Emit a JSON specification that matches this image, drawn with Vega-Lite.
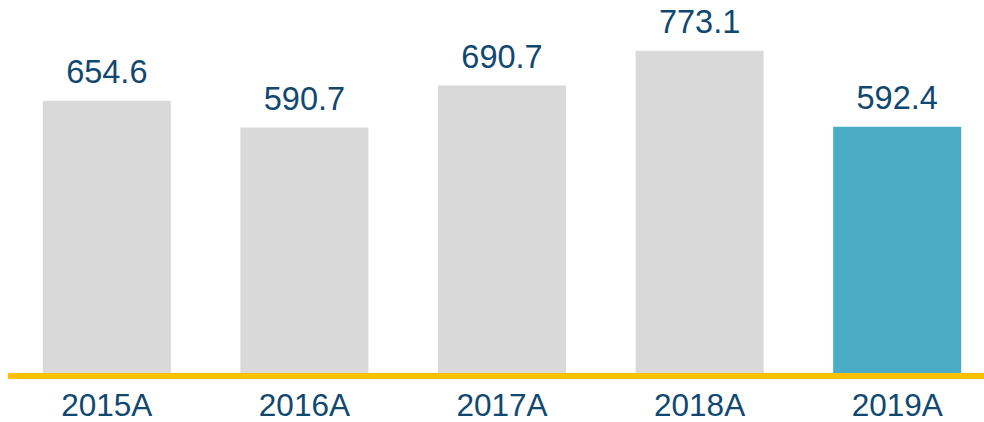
{
  "$schema": "https://vega.github.io/schema/vega-lite/v6.json",
  "width": 988,
  "height": 376,
  "autosize": {"type": "none"},
  "padding": {"left": 8, "top": 0, "right": 0, "bottom": 46},
  "background": "white",
  "layer": [
    {
      "data": {"values": [
        {"year": "2015A", "value": 654.6, "hl": "no"},
        {"year": "2016A", "value": 590.7, "hl": "no"},
        {"year": "2017A", "value": 690.7, "hl": "no"},
        {"year": "2018A", "value": 773.1, "hl": "no"},
        {"year": "2019A", "value": 592.4, "hl": "yes"}
      ]},
      "encoding": {
        "x": {"field": "year", "type": "nominal", "sort": null,
          "scale": {"paddingInner": 0.352, "paddingOuter": 0.176},
          "axis": {"title": null, "domain": false, "ticks": false, "labelAngle": 0,
            "labelFontSize": 31.5, "labelFont": "Liberation Sans", "labelColor": "#114870", "labelPadding": 14}},
        "y": {"field": "value", "type": "quantitative", "scale": {"domain": [0, 894], "nice": false, "zero": true}, "axis": null}
      },
      "layer": [
        {
          "mark": {"type": "bar"},
          "encoding": {
            "color": {"field": "hl", "type": "nominal", "scale": {"domain": ["no", "yes"], "range": ["#d9d9d9", "#4bacc6"]}, "legend": null}
          }
        },
        {
          "mark": {"type": "text", "baseline": "alphabetic", "dy": -18, "fontSize": 32.5, "font": "Liberation Sans", "color": "#114870"},
          "encoding": {
            "text": {"field": "value", "type": "quantitative", "format": ".1f"}
          }
        }
      ]
    },
    {
      "data": {"values": [{"base": 0}]},
      "mark": {"type": "rule", "color": "#ffc000", "strokeWidth": 6},
      "encoding": {"y": {"field": "base", "type": "quantitative"}}
    }
  ],
  "config": {"view": {"stroke": null}}
}
